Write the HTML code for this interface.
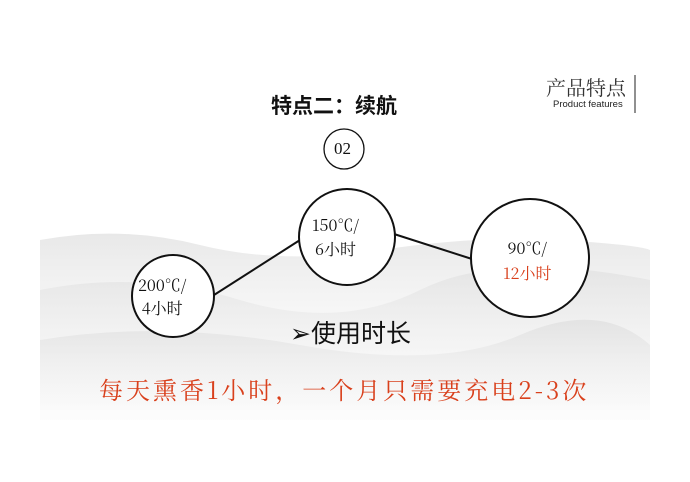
<!DOCTYPE html>
<html><head><meta charset="utf-8"><style>
body{margin:0;width:690px;height:482px;background:#fff;overflow:hidden;position:relative;font-family:"Noto Serif CJK SC",serif}
.t{position:absolute;white-space:nowrap}
</style></head><body>
<svg width="690" height="482" style="position:absolute;left:0;top:0">
<defs>
<linearGradient id="g1" x1="0" y1="0" x2="0" y2="1"><stop offset="0" stop-color="#e8e8e8"/><stop offset="1" stop-color="#f8f8f8" stop-opacity="0"/></linearGradient>
<linearGradient id="g2" x1="0" y1="0" x2="0" y2="1"><stop offset="0" stop-color="#dedede"/><stop offset="1" stop-color="#f4f4f4" stop-opacity="0.3"/></linearGradient>
</defs>
<path d="M40 240 Q120 225 200 245 T380 250 T560 240 T650 250 L650 410 L40 410Z" fill="url(#g1)"/>
<path d="M40 290 Q140 270 240 300 T420 290 T650 280 L650 410 L40 410Z" fill="url(#g2)" opacity="0.6"/>
<path d="M40 340 Q160 320 300 345 T520 335 T650 345 L650 420 L40 420Z" fill="url(#g2)" opacity="0.7"/>
<line x1="214" y1="295" x2="300" y2="240" stroke="#111" stroke-width="2"/>
<line x1="394" y1="234" x2="472" y2="259" stroke="#111" stroke-width="2"/>
<circle cx="173" cy="296" r="41" fill="#fff" stroke="#111" stroke-width="2"/>
<circle cx="347" cy="237" r="48" fill="#fff" stroke="#111" stroke-width="2"/>
<circle cx="530" cy="258" r="59" fill="#fff" stroke="#111" stroke-width="2"/>
<circle cx="344" cy="149" r="20" fill="none" stroke="#111" stroke-width="1.3"/>
<line x1="635" y1="75" x2="635" y2="113" stroke="#222" stroke-width="1"/>
</svg>
<div class="t" style="left:271px;top:90px;font-size:21px;font-weight:bold;font-family:'Noto Sans CJK SC',sans-serif;color:#111">特点二：续航</div>
<div class="t" style="left:334px;top:139px;font-size:17px;color:#111;font-family:'Liberation Serif',serif">02</div>
<div class="t" style="left:546px;top:72px;font-size:20px;color:#333">产品特点</div>
<div class="t" style="left:553px;top:99px;font-size:9.5px;font-family:'Liberation Sans',sans-serif;color:#222">Product features</div>
<div class="t" style="left:138px;top:273px;font-size:16px;color:#111;line-height:23px;text-align:center">200℃/<br>4小时</div>
<div class="t" style="left:312px;top:213px;font-size:16px;color:#111;line-height:24px;text-align:center">150℃/<br>6小时</div>
<div class="t" style="left:503px;top:235px;font-size:16px;color:#111;line-height:25px;text-align:center">90℃/<br><span style="color:#d9401c">12小时</span></div>
<div class="t" style="left:290px;top:314px;font-size:25px;color:#111;font-family:'Noto Sans CJK SC',sans-serif">➢使用时长</div>
<div class="t" style="left:99px;top:371px;font-size:24px;letter-spacing:3px;color:#d9401c">每天熏香1小时，一个月只需要充电2-3次</div>
</body></html>
